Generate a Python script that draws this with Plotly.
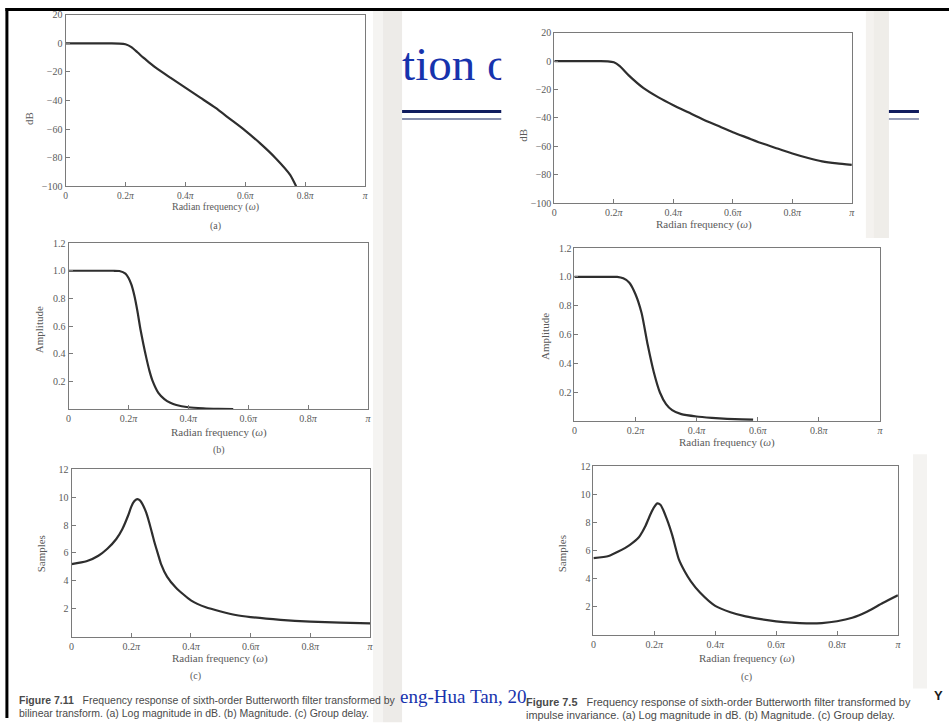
import plotly.graph_objects as go

W, H = 952, 724

# ---------------- data (frequency in units of pi) ----------------
# Bilinear transform (Figure 7.11)
bil_db_w = [0, 0.05, 0.1, 0.15, 0.18, 0.2, 0.22, 0.24, 0.26, 0.28, 0.3, 0.35, 0.4,
            0.45, 0.5, 0.55, 0.6, 0.65, 0.7, 0.75, 0.77]
bil_db = [0, 0, 0, 0, -0.1, -0.6, -2.6, -6.2, -10, -13.4, -16.8, -24, -31,
          -38, -45, -53, -61, -70, -80, -92, -100]

bil_amp_w = [0, 0.05, 0.1, 0.15, 0.17, 0.19, 0.2, 0.21, 0.22, 0.23, 0.24, 0.25, 0.26,
             0.27, 0.28, 0.3, 0.32, 0.34, 0.36, 0.4, 0.45, 0.5, 0.55]
bil_amp = [1, 1, 1, 1, 0.998, 0.98, 0.95, 0.9, 0.82, 0.71, 0.58, 0.47, 0.37,
           0.28, 0.21, 0.12, 0.075, 0.048, 0.032, 0.016, 0.008, 0.004, 0.002]

bil_gd_w = [0, 0.05, 0.09, 0.12, 0.15, 0.17, 0.19, 0.2, 0.21, 0.22, 0.23, 0.24, 0.25,
            0.26, 0.27, 0.28, 0.29, 0.3, 0.32, 0.35, 0.4, 0.45, 0.5, 0.55, 0.6,
            0.7, 0.8, 0.9, 1.0]
bil_gd = [5.2, 5.4, 5.8, 6.3, 7.0, 7.7, 8.7, 9.3, 9.7, 9.85, 9.75, 9.4, 8.9,
          8.2, 7.4, 6.6, 5.9, 5.2, 4.3, 3.5, 2.6, 2.1, 1.8, 1.55, 1.4,
          1.2, 1.07, 1.0, 0.95]

# Impulse invariance (Figure 7.5)
imp_db_w = [0, 0.05, 0.1, 0.15, 0.18, 0.2, 0.22, 0.25, 0.3, 0.35, 0.4, 0.45, 0.5,
            0.55, 0.6, 0.65, 0.7, 0.75, 0.8, 0.85, 0.9, 0.95, 1.0]
imp_db = [0, 0, 0, 0, -0.1, -0.8, -3.5, -10, -19, -25.5, -31, -36, -41,
          -45.5, -50, -54, -58, -61.5, -65, -68, -70.5, -72, -73]

imp_amp_w = [0, 0.05, 0.1, 0.14, 0.16, 0.18, 0.2, 0.22, 0.24, 0.26, 0.28, 0.3, 0.32,
             0.35, 0.4, 0.45, 0.5, 0.55, 0.585]
imp_amp = [1, 1, 1, 1, 0.99, 0.96, 0.88, 0.75, 0.53, 0.34, 0.2, 0.12, 0.078,
           0.05, 0.034, 0.025, 0.018, 0.014, 0.012]

imp_gd_w = [0, 0.05, 0.08, 0.12, 0.15, 0.16, 0.17, 0.18, 0.19, 0.2, 0.21, 0.22, 0.23,
            0.24, 0.25, 0.26, 0.28, 0.3, 0.32, 0.35, 0.4, 0.45, 0.5, 0.55, 0.6,
            0.65, 0.7, 0.75, 0.8, 0.85, 0.9, 0.95, 1.0]
imp_gd = [5.45, 5.6, 5.9, 6.4, 6.95, 7.3, 7.7, 8.2, 8.7, 9.1, 9.35, 9.25, 8.85,
          8.3, 7.7, 7.0, 5.4, 4.5, 3.8, 3.0, 2.05, 1.6, 1.3, 1.1, 0.95,
          0.85, 0.8, 0.82, 0.95, 1.2, 1.65, 2.25, 2.8]

# tick labels
x_tick_vals = [0, 0.2, 0.4, 0.6, 0.8, 1.0]
x_tick_text = ["0", "0.2<i>π</i>", "0.4<i>π</i>", "0.6<i>π</i>", "0.8<i>π</i>", "<i>π</i>"]
db_tick_vals = [20, 0, -20, -40, -60, -80, -100]
db_tick_text = ["20", "0", "−20", "−40", "−60", "−80", "−100"]
amp_tick_vals = [0.2, 0.4, 0.6, 0.8, 1.0, 1.2]
amp_tick_text = ["0.2", "0.4", "0.6", "0.8", "1.0", "1.2"]
gd_tick_vals = [2, 4, 6, 8, 10, 12]
gd_tick_text = ["2", "4", "6", "8", "10", "12"]

# ---------------- helpers (pixel -> paper, with capture calibration) ----------------
OX, SX = 4.6, 0.992
OY, SY = 5.1, 0.987

def fx(p):
    return ((p - OX) / SX) / W

def fy(p):
    return 1 - ((p - OY) / SY) / H

SERIF = "Liberation Serif, Times New Roman, serif"
GRAY = "#5a5a5a"
LINE = "#2e2e2e"
AX = "#7a7a7a"

panels = [
    # (w, y, box px (x0,y0,x1,y1), yrange, ytv, ytt, ytitle, ytitle_xy, xtitle_xy, sub, sub_xy)
    (bil_db_w, bil_db, (67, 14, 366, 186), [-100, 20], db_tick_vals, db_tick_text, "dB", (31, 118), (217, 207), "(a)", (217, 226)),
    (bil_amp_w, bil_amp, (70, 243, 369, 410), [0, 1.2], amp_tick_vals, amp_tick_text, "Amplitude", (40, 330), (220, 433), "(b)", (220, 451)),
    (bil_gd_w, bil_gd, (73, 470, 371, 638), [0, 12], gd_tick_vals, gd_tick_text, "Samples", (42, 555), (221, 660), "(c)", (197, 678)),
    (imp_db_w, imp_db, (555, 32, 852, 203), [-100, 20], db_tick_vals, db_tick_text, "dB", (524, 135), (704, 224), None, None),
    (imp_amp_w, imp_amp, (575, 248, 880, 422), [0, 1.2], amp_tick_vals, amp_tick_text, "Amplitude", (545, 337), (727, 443), None, None),
    (imp_gd_w, imp_gd, (594, 467, 898, 636), [0, 12], gd_tick_vals, gd_tick_text, "Samples", (563, 555), (747, 660), "(c)", (747, 679)),
]

fig = go.Figure()
layout = dict(
    width=W, height=H, margin=dict(l=0, r=0, t=0, b=0),
    paper_bgcolor="white", plot_bgcolor="rgba(0,0,0,0)",
    showlegend=False, hovermode=False,
)
annotations = []
shapes = []

for i, (w, y, box, yr, ytv, ytt, ytitle, ytxy, xtxy, sub, subxy) in enumerate(panels, start=1):
    sfx = "" if i == 1 else str(i)
    x0, y0, x1, y1 = box
    fig.add_trace(go.Scatter(
        x=w, y=y, mode="lines", xaxis="x" + sfx, yaxis="y" + sfx,
        line=dict(color=LINE, width=2.2, shape="spline", smoothing=0.6),
    ))
    layout["xaxis" + sfx] = dict(
        domain=[fx(x0), fx(x1)], range=[0, 1], anchor="y" + sfx,
        tickvals=x_tick_vals, ticktext=x_tick_text,
        ticks="inside", ticklen=4, tickcolor=AX, tickwidth=1,
        showline=True, linecolor=AX, linewidth=1, mirror=True,
        showgrid=False, zeroline=False, fixedrange=True,
        tickfont=dict(family=SERIF, size=10 if i != 1 else 9.5, color=GRAY),
    )
    layout["yaxis" + sfx] = dict(
        domain=[fy(y1), fy(y0)], range=yr, anchor="x" + sfx,
        tickvals=ytv, ticktext=ytt,
        ticks="inside", ticklen=4, tickcolor=AX, tickwidth=1,
        showline=True, linecolor=AX, linewidth=1, mirror=True,
        showgrid=False, zeroline=False, fixedrange=True,
        tickfont=dict(family=SERIF, size=10, color=GRAY),
    )
    annotations.append(dict(
        x=fx(ytxy[0]), y=fy(ytxy[1]), xref="paper", yref="paper",
        text=ytitle, textangle=-90, showarrow=False,
        font=dict(family=SERIF, size=11, color=GRAY),
        xanchor="center", yanchor="middle",
    ))
    annotations.append(dict(
        x=fx(xtxy[0]), y=fy(xtxy[1]), xref="paper", yref="paper",
        text="Radian frequency (<i>ω</i>)", showarrow=False,
        font=dict(family=SERIF, size=11 if i != 1 else 10, color=GRAY),
        xanchor="center", yanchor="middle",
    ))
    if sub:
        annotations.append(dict(
            x=fx(subxy[0]), y=fy(subxy[1]), xref="paper", yref="paper",
            text=sub, showarrow=False,
            font=dict(family=SERIF, size=10, color=GRAY),
            xanchor="center", yanchor="middle",
        ))

# ---- clipped slide texts (drawn as text traces so they are cut by their axes) ----
fig.add_trace(go.Scatter(
    x=[403], y=[68], mode="text", text=["tion o"], textposition="middle right",
    xaxis="x7", yaxis="y7", cliponaxis=True,
    textfont=dict(family=SERIF, size=47, color="#1733ad"),
))
layout["xaxis7"] = dict(domain=[fx(395), fx(502)], range=[395, 502], visible=False, fixedrange=True, anchor="y7")
layout["yaxis7"] = dict(domain=[fy(100), fy(40)], range=[100, 40], visible=False, fixedrange=True, anchor="x7")

fig.add_trace(go.Scatter(
    x=[401], y=[700], mode="text", text=["eng-Hua Tan, 20"], textposition="middle right",
    xaxis="x8", yaxis="y8", cliponaxis=True,
    textfont=dict(family=SERIF, size=19, color="#1733ad"),
))
layout["xaxis8"] = dict(domain=[fx(395), fx(529)], range=[395, 529], visible=False, fixedrange=True, anchor="y8")
layout["yaxis8"] = dict(domain=[fy(718), fy(684)], range=[718, 684], visible=False, fixedrange=True, anchor="x8")

# ---- scan edges (light gray bands) ----
def rect(xa, ya, xb, yb, color):
    shapes.append(dict(type="rect", xref="paper", yref="paper", layer="below",
                       x0=fx(xa), x1=fx(xb), y0=fy(yb), y1=fy(ya),
                       fillcolor=color, line=dict(width=0)))

rect(374, 10, 384, 724, "#f5f4f2")
rect(384, 10, 403, 724, "#edebe8")
rect(866, 10, 889, 238, "#f4f2ef")
rect(874, 10, 889, 238, "#efede9")
rect(913, 455, 927, 690, "#f4f3f1")

# ---- navy double rules ----
def hline(xa, xb, yy, color, width):
    shapes.append(dict(type="line", xref="paper", yref="paper", layer="above",
                       x0=fx(xa), x1=fx(xb), y0=fy(yy), y1=fy(yy),
                       line=dict(color=color, width=width)))

for xa, xb in [(403, 502), (889, 919)]:
    hline(xa, xb, 111, "#101c5e", 3)
    hline(xa, xb, 118.5, "#5f6a92", 1.3)

# ---- slide frame ----
shapes.append(dict(type="line", xref="paper", yref="paper", layer="above",
                   x0=fx(7), x1=1, y0=fy(8.5), y1=fy(8.5), line=dict(color="black", width=3)))
shapes.append(dict(type="line", xref="paper", yref="paper", layer="above",
                   x0=fx(8.5), x1=fx(8.5), y0=fy(7), y1=0, line=dict(color="black", width=3)))

# ---- captions ----
CAP = "Liberation Sans Narrow, Arial Narrow, Liberation Sans, sans-serif"
CAPC = "#4a4a4a"
def cap(x, yy, text, size):
    annotations.append(dict(x=fx(x), y=fy(yy), xref="paper", yref="paper", text=text,
                            showarrow=False, xanchor="left", yanchor="middle",
                            font=dict(family=CAP, size=size, color=CAPC)))

cap(19, 702, "<b>Figure 7.11</b>\u00a0\u00a0\u00a0Frequency response of sixth-order Butterworth filter transformed by", 10.5)
cap(19, 715, "bilinear transform. (a) Log magnitude in dB. (b) Magnitude. (c) Group delay.", 10.5)
cap(525, 704, "<b>Figure 7.5</b>\u00a0\u00a0\u00a0Frequency response of sixth-order Butterworth filter transformed by", 10.9)
cap(525, 717, "impulse invariance. (a) Log magnitude in dB. (b) Magnitude. (c) Group delay.", 10.9)

annotations.append(dict(x=fx(939), y=fy(697), xref="paper", yref="paper", text="<b>Y</b>",
                        showarrow=False, xanchor="center", yanchor="middle",
                        font=dict(family="Liberation Sans, sans-serif", size=13, color="#1a1a1a")))

layout["annotations"] = annotations
layout["shapes"] = shapes
fig.update_layout(**layout)
fig.write_html(
    "out.html",
    config={"displayModeBar": False},
    post_script="document.body.style.margin='0px';document.body.style.padding='0px';"
                "document.body.style.overflow='hidden';",
)
